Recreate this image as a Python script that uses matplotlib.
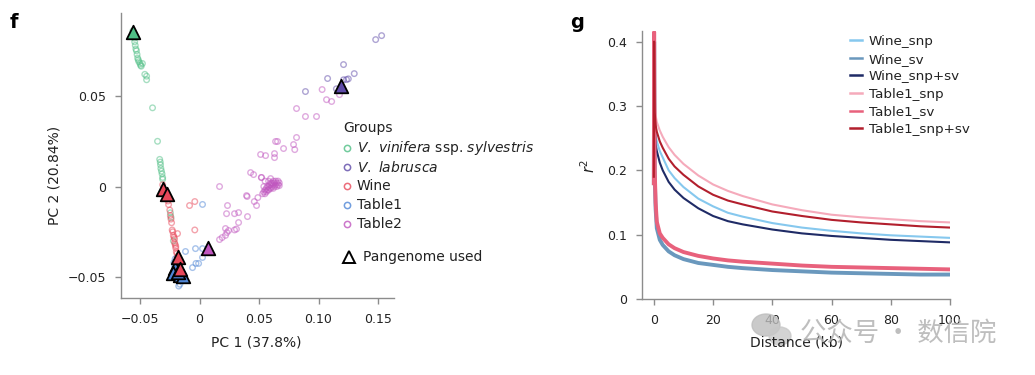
import matplotlib
matplotlib.use("Agg")
import matplotlib.pyplot as plt
from matplotlib.lines import Line2D
from matplotlib.patches import Ellipse
import numpy as np

FONT = 'DejaVu Sans'
plt.rcParams['font.family'] = [FONT]
plt.rcParams['mathtext.fontset'] = 'custom'
plt.rcParams['mathtext.rm'] = FONT
plt.rcParams['mathtext.it'] = FONT + ':italic'

# ---------------- Panel f data (PCA) ----------------
groups = ["V. vinifera ssp. sylvestris", "V. labrusca", "Wine", "Table1", "Table2"]
group_colors = ["#4fbf85", "#5e4aa8", "#e8485a", "#4f86d6", "#c056bf"]

sylv_x = [-0.056, -0.055, -0.0548, -0.0545, -0.054, -0.0535, -0.053, -0.0525, -0.052, -0.0515,
          -0.051, -0.050, -0.0495, -0.048, -0.049, -0.046, -0.0445, -0.0445, -0.0395, -0.0353,
          -0.0335, -0.033, -0.0328, -0.0325, -0.032, -0.0315, -0.031, -0.031, -0.0245, -0.024,
          -0.022]
sylv_y = [0.086, 0.084, 0.082, 0.080, 0.078, 0.076, 0.075, 0.073, 0.071, 0.070,
          0.069, 0.068, 0.067, 0.068, 0.0665, 0.062, 0.061, 0.059, 0.0435, 0.025,
          0.015, 0.0135, 0.012, 0.010, 0.0085, 0.007, 0.005, 0.004, -0.0145, -0.017,
          -0.030]

labr_x = [0.148, 0.153, 0.121, 0.1076, 0.130, 0.1235, 0.121, 0.089, 0.115, 0.125]
labr_y = [0.0812, 0.0834, 0.0674, 0.0597, 0.0624, 0.0591, 0.059, 0.0525, 0.054, 0.0595]

wine_x = [-0.031, -0.030, -0.028, -0.027, -0.0265, -0.026, -0.025, -0.0245, -0.024, -0.0235,
          -0.023, -0.0225, -0.022, -0.0215, -0.021, -0.021, -0.0205, -0.020, -0.020, -0.0195,
          -0.019, -0.019, -0.0185, -0.018, -0.0175, -0.0084, -0.004, -0.004, -0.0185]
wine_y = [0.001, -0.002, -0.004, -0.006, -0.008, -0.010, -0.013, -0.016, -0.018, -0.020,
          -0.024, -0.025, -0.027, -0.028, -0.029, -0.031, -0.032, -0.033, -0.034, -0.036,
          -0.037, -0.039, -0.041, -0.043, -0.046, -0.0105, -0.0083, -0.024, -0.026]

tab1_x = [-0.018, -0.017, -0.0165, -0.0175, -0.016, -0.015, -0.019, -0.020, -0.021, -0.0215,
          -0.0205, -0.013, -0.014, 0.0025, -0.0118, -0.0034, 0.0025, 0.0025, -0.0008, -0.003,
          -0.0059]
tab1_y = [-0.050, -0.052, -0.054, -0.055, -0.051, -0.050, -0.048, -0.046, -0.044, -0.042,
          -0.040, -0.049, -0.052, -0.0099, -0.0359, -0.0343, -0.0343, -0.0392, -0.0425, -0.0425,
          -0.0448]

tab2_x = [0.103, 0.1067, 0.111, 0.1176, 0.0815, 0.089, 0.0983, 0.0639, 0.0655, 0.0706,
          0.079, 0.0815, 0.080, 0.0513, 0.0555, 0.063, 0.063, 0.0429, 0.0454, 0.052,
          0.0597, 0.0168, 0.0395, 0.040, 0.046, 0.0479, 0.049, 0.0235, 0.0227, 0.0294,
          0.0328, 0.0328, 0.0403, 0.0218, 0.0244, 0.0294, 0.031, 0.0218, 0.019, 0.0168,
          0.023,
          0.053, 0.054, 0.055, 0.056, 0.056, 0.057, 0.058, 0.058, 0.059, 0.060,
          0.060, 0.061, 0.062, 0.062, 0.063, 0.063, 0.064, 0.065, 0.065, 0.066,
          0.067, 0.066, 0.064, 0.061, 0.059, 0.057, 0.055, 0.054, 0.058, 0.060,
          0.062, 0.067, 0.052, 0.055]
tab2_y = [0.0536, 0.048, 0.047, 0.0508, 0.0431, 0.0387, 0.0387, 0.0249, 0.0249, 0.021,
          0.0232, 0.0271, 0.0204, 0.0177, 0.0171, 0.0182, 0.016, 0.0077, 0.0066, 0.005,
          0.0044, 0.0, -0.005, -0.0055, -0.0083, -0.0105, -0.0061, -0.0105, -0.015, -0.015,
          -0.0144, -0.0199, -0.0166, -0.0232, -0.0243, -0.024, -0.0235, -0.027, -0.0282, -0.0293,
          -0.0254,
          -0.004, -0.003, -0.002, -0.003, -0.001, -0.002, 0.000, -0.002, -0.001, 0.001,
          -0.001, 0.000, 0.001, -0.001, 0.002, 0.000, 0.001, 0.002, 0.000, 0.001,
          0.002, 0.003, 0.003, 0.002, 0.001, 0.000, -0.004, 0.000, 0.003, 0.002,
          0.003, 0.0005, 0.005, 0.003]

scatter_x = [sylv_x, labr_x, wine_x, tab1_x, tab2_x]
scatter_y = [sylv_y, labr_y, wine_y, tab1_y, tab2_y]

# Pangenome (triangles)
pan_sylv = ([-0.0555], [0.0855])
pan_labr = ([0.1185], [0.0558])
pan_tab2 = ([0.0067], [-0.0337])
pan_tab1 = ([-0.021, -0.0227, -0.0168, -0.0143, -0.0185], [-0.0448, -0.048, -0.049, -0.0497, -0.047])
pan_wine = ([-0.031, -0.027, -0.0185, -0.0168], [-0.0011, -0.0044, -0.0387, -0.0453])

pc_xticks = [-0.05, 0, 0.05, 0.10, 0.15]
pc_xticklabels = ["\u22120.05", "0", "0.05", "0.10", "0.15"]
pc_yticks = [-0.05, 0, 0.05]
pc_yticklabels = ["\u22120.05", "0", "0.05"]

# ---------------- Panel g data (LD decay) ----------------
distance_kb = [0, 0.1, 0.3, 0.6, 1, 2, 3, 5, 7, 10, 15, 20, 25, 30, 40, 50, 60, 70, 80, 90, 100]
ld_names = ["Wine_snp", "Wine_sv", "Wine_snp+sv", "Table1_snp", "Table1_sv", "Table1_snp+sv"]
ld_colors = ["#86c8ee", "#6a98bd", "#1f2b66", "#f5aabb", "#e8617c", "#b21f2d"]
wine_snp = [0.19, 0.40, 0.28, 0.255, 0.245, 0.23, 0.22, 0.20, 0.188, 0.174, 0.156, 0.144, 0.134, 0.128, 0.118, 0.111, 0.106, 0.102, 0.099, 0.097, 0.095]
wine_sv = [0.18, 0.40, 0.19, 0.14, 0.11, 0.092, 0.084, 0.074, 0.068, 0.062, 0.056, 0.053, 0.050, 0.048, 0.045, 0.043, 0.041, 0.040, 0.039, 0.038, 0.038]
wine_snpsv = [0.19, 0.39, 0.265, 0.24, 0.23, 0.212, 0.20, 0.182, 0.17, 0.157, 0.141, 0.129, 0.121, 0.116, 0.108, 0.102, 0.098, 0.095, 0.092, 0.090, 0.088]
table1_snp = [0.19, 0.41, 0.31, 0.285, 0.275, 0.262, 0.252, 0.236, 0.224, 0.21, 0.192, 0.178, 0.168, 0.16, 0.147, 0.138, 0.131, 0.127, 0.124, 0.121, 0.119]
table1_sv = [0.18, 0.415, 0.20, 0.15, 0.12, 0.102, 0.095, 0.085, 0.079, 0.073, 0.067, 0.063, 0.060, 0.058, 0.055, 0.052, 0.050, 0.049, 0.048, 0.047, 0.046]
table1_snpsv = [0.19, 0.40, 0.29, 0.27, 0.26, 0.245, 0.235, 0.218, 0.206, 0.193, 0.175, 0.162, 0.153, 0.147, 0.136, 0.129, 0.123, 0.119, 0.116, 0.113, 0.111]
ld_series = [wine_snp, wine_sv, wine_snpsv, table1_snp, table1_sv, table1_snpsv]
ld_xticks = [0, 20, 40, 60, 80, 100]
ld_yticks = [0, 0.1, 0.2, 0.3, 0.4]
ld_yticklabels = ["0", "0.1", "0.2", "0.3", "0.4"]

# ---------------- Figure ----------------
W, H = 1035, 375
fig = plt.figure(figsize=(W / 100, H / 100), dpi=100)

def fx(px):
    return px / W

def fy(py):
    return 1 - py / H

spine_c = "#8c8c8c"
text_c = "#222222"
FS = 10

def style_axes(ax):
    for s in ["top", "right"]:
        ax.spines[s].set_visible(False)
    for s in ["left", "bottom"]:
        ax.spines[s].set_color(spine_c)
        ax.spines[s].set_linewidth(1.0)
    ax.tick_params(colors=spine_c, labelcolor=text_c, labelsize=9, length=4, width=1.0, pad=7)

# Panel f
ax1 = fig.add_axes([fx(121), fy(298), fx(394) - fx(121), fy(13) - fy(298)])
style_axes(ax1)
ax1.set_xlim(-0.066, 0.1634)
ax1.set_ylim(-0.0616, 0.0959)
ax1.spines['bottom'].set_bounds(-0.066, 0.1634)

for xs, ys, c in zip(scatter_x, scatter_y, group_colors):
    ax1.scatter(xs, ys, s=16, facecolors='none', edgecolors=c, linewidths=1.0, alpha=0.5, zorder=2)

tri_kw = dict(marker='^', s=95, edgecolors='black', linewidths=1.3, zorder=4)
ax1.scatter(*pan_sylv, facecolors=group_colors[0], **tri_kw)
ax1.scatter(*pan_labr, facecolors=group_colors[1], **tri_kw)
ax1.scatter(*pan_tab2, facecolors=group_colors[4], **tri_kw)
ax1.scatter(*pan_tab1, facecolors=group_colors[3], **tri_kw)
ax1.scatter(*pan_wine, facecolors=group_colors[2], **tri_kw)

ax1.set_xticks(pc_xticks)
ax1.set_xticklabels(pc_xticklabels)
ax1.set_yticks(pc_yticks)
ax1.set_yticklabels(pc_yticklabels)
fig.text(fx(256), fy(342), "PC 1 (37.8%)", ha='center', va='center', fontsize=FS, color=text_c)
fig.text(fx(55), fy(175), "PC 2 (20.84%)", ha='center', va='center', fontsize=FS, color=text_c, rotation=90)

# Legend for panel f
fig.text(fx(343), fy(128), "Groups", ha='left', va='center', fontsize=FS, color=text_c)
leg_labels = [r"$\mathit{V.\ vinifera}$ ssp. $\mathit{sylvestris}$", r"$\mathit{V.\ labrusca}$",
              "Wine", "Table1", "Table2"]
for i, (lab, c) in enumerate(zip(leg_labels, group_colors)):
    yy = 148 + i * 19
    fig.add_artist(Line2D([fx(347)], [fy(yy)], marker='o', markersize=4.5, markerfacecolor='none',
                          markeredgecolor=c, markeredgewidth=1.1, alpha=0.8, transform=fig.transFigure))
    fig.text(fx(357), fy(yy), lab, ha='left', va='center', fontsize=FS, color=text_c)
fig.add_artist(Line2D([fx(349)], [fy(257)], marker='^', markersize=9, markerfacecolor='none',
                      markeredgecolor='black', markeredgewidth=1.4, transform=fig.transFigure))
fig.text(fx(363), fy(257), "Pangenome used", ha='left', va='center', fontsize=FS, color=text_c)

# Panel g
ax2 = fig.add_axes([fx(642), fy(299), fx(950) - fx(642), fy(30.7) - fy(299)])
style_axes(ax2)
ax2.set_xlim(-4, 100)
ax2.set_ylim(0, 0.417)
ax2.spines['bottom'].set_bounds(-4, 100)
for name, vals, c in zip(ld_names, ld_series, ld_colors):
    lw = 2.8 if name.endswith("_sv") else 1.5
    ax2.plot(distance_kb, vals, color=c, lw=lw, label=name, solid_joinstyle='round')
ax2.set_xticks(ld_xticks)
ax2.set_yticks(ld_yticks)
ax2.set_yticklabels(ld_yticklabels)
fig.text(fx(797), fy(343), "Distance (kb)", ha='center', va='center', fontsize=FS, color=text_c)
fig.text(fx(589), fy(166), r"$r^2$", ha='center', va='center', fontsize=10.5, color=text_c, rotation=90)

handles = [Line2D([0], [0], color=c, lw=1.8) for c in ld_colors]
leg = ax2.legend(handles, ld_names, loc='upper left', bbox_to_anchor=(fx(850), fy(35)),
                 bbox_transform=fig.transFigure, frameon=False, fontsize=9.7,
                 handlelength=0.9, handletextpad=0.5, labelspacing=0.34, borderpad=0, borderaxespad=0)
for t in leg.get_texts():
    t.set_color(text_c)

# Panel letters
fig.text(fx(10), fy(22), "f", fontsize=14, fontweight='bold', ha='left', va='center')
fig.text(fx(570), fy(22), "g", fontsize=14, fontweight='bold', ha='left', va='center')

# Watermark
fig.add_artist(Ellipse((fx(766), fy(325)), fx(28), 22 / H, color="#bdbdbd", alpha=0.8, transform=fig.transFigure))
fig.add_artist(Ellipse((fx(780), fy(336)), fx(22), 18 / H, color="#c8c8c8", alpha=0.8, transform=fig.transFigure))
fig.text(fx(800), fy(333), "公众号 · 数信院", fontsize=19, color="#b3b3b3", alpha=0.85,
         ha='left', va='center', family=['Noto Sans CJK SC', 'DejaVu Sans'])

fig.savefig("out.png", dpi=100)
